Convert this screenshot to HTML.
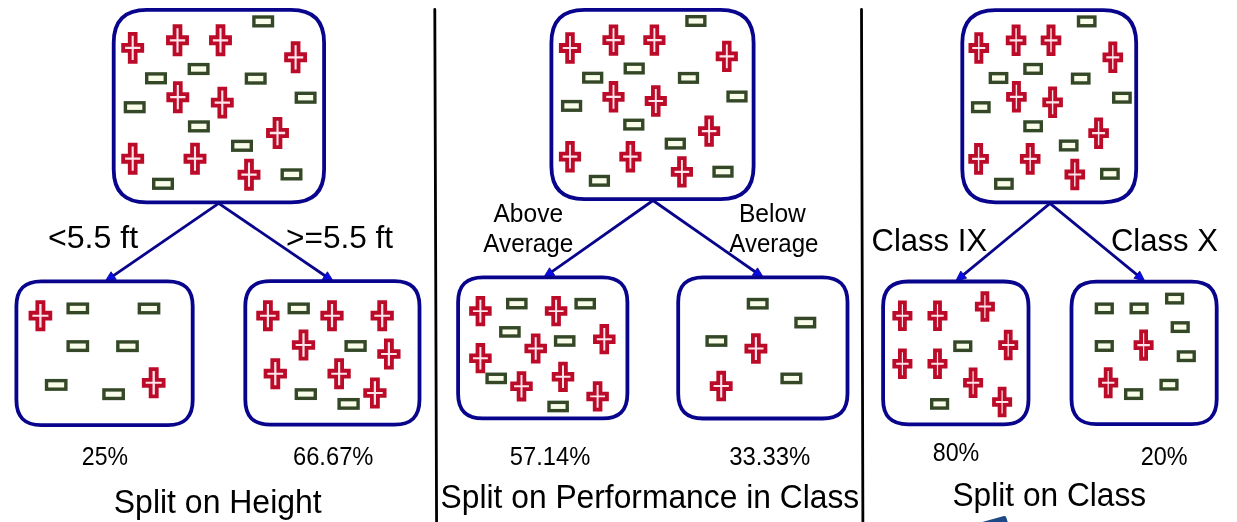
<!DOCTYPE html>
<html><head><meta charset="utf-8"><style>
html,body{margin:0;padding:0;background:#fff;}
body{width:1237px;height:522px;overflow:hidden;}
svg{display:block;will-change:transform;}
text{font-family:"Liberation Sans",sans-serif;fill:#000;}
.c{fill:#ffe4ec;stroke:#bb0b29;stroke-width:3.8;stroke-linejoin:miter;}
.r{fill:#f8fce9;stroke:#344827;stroke-width:3.4;}
.b{fill:none;stroke:#08048c;stroke-width:3.8;}
.l{stroke:#08048c;stroke-width:2.8;}
.ah{fill:#0a0ae6;stroke:#08048c;stroke-width:0.8;stroke-linejoin:miter;}
.d{stroke:#000;stroke-width:2.8;stroke-linecap:round;}
</style></head><body>
<svg width="1237" height="522" viewBox="0 0 1237 522">
<line x1="434.8" y1="9.5" x2="436.6" y2="530" class="d"/>
<line x1="861.5" y1="9.5" x2="862.9" y2="530" class="d"/>
<line x1="218.7" y1="203.4" x2="112.01" y2="276.69" class="l"/>
<path d="M105 281.5 L111.05 271.76 L116.26 279.35 Z" class="ah"/>
<line x1="218.7" y1="203.4" x2="326.47" y2="276.72" class="l"/>
<path d="M333.5 281.5 L322.23 279.4 L327.41 271.79 Z" class="ah"/>
<line x1="653" y1="200.5" x2="550.55" y2="272.7" class="l"/>
<path d="M543.6 277.6 L549.53 267.79 L554.83 275.31 Z" class="ah"/>
<line x1="653" y1="200.5" x2="756.53" y2="272.74" class="l"/>
<path d="M763.5 277.6 L752.26 275.36 L757.52 267.82 Z" class="ah"/>
<line x1="1050" y1="203.4" x2="962.16" y2="275.89" class="l"/>
<path d="M955.6 281.3 L960.77 271.07 L966.63 278.16 Z" class="ah"/>
<line x1="1050" y1="203.4" x2="1138.33" y2="275.91" class="l"/>
<path d="M1144.9 281.3 L1133.87 278.19 L1139.7 271.08 Z" class="ah"/>
<path d="M146.7 9.9 H291.1 C313.21 9.9 324.1 20.79 324.1 42.9 V169.4 C324.1 191.51 313.21 202.4 291.1 202.4 H146.7 C124.59 202.4 113.7 191.51 113.7 169.4 V42.9 C113.7 20.79 124.59 9.9 146.7 9.9 Z" class="b"/>
<path d="M584.4 9.9 H720.6 C742.71 9.9 753.6 20.79 753.6 42.9 V166.2 C753.6 188.31 742.71 199.2 720.6 199.2 H584.4 C562.29 199.2 551.4 188.31 551.4 166.2 V42.9 C551.4 20.79 562.29 9.9 584.4 9.9 Z" class="b"/>
<path d="M995.3 10.1 H1103.2 C1125.31 10.1 1136.2 20.99 1136.2 43.1 V169.3 C1136.2 191.41 1125.31 202.3 1103.2 202.3 H995.3 C973.19 202.3 962.3 191.41 962.3 169.3 V43.1 C962.3 20.99 973.19 10.1 995.3 10.1 Z" class="b"/>
<path d="M41.4 281.3 H167.7 C184.7 281.3 192.7 289.3 192.7 306.3 V400.1 C192.7 417.1 184.7 425.1 167.7 425.1 H41.4 C24.4 425.1 16.4 417.1 16.4 400.1 V306.3 C16.4 289.3 24.4 281.3 41.4 281.3 Z" class="b"/>
<path d="M270.3 281.2 H394.5 C411.5 281.2 419.5 289.2 419.5 306.2 V399.6 C419.5 416.6 411.5 424.6 394.5 424.6 H270.3 C253.3 424.6 245.3 416.6 245.3 399.6 V306.2 C245.3 289.2 253.3 281.2 270.3 281.2 Z" class="b"/>
<path d="M483.1 277.3 H602.4 C619.4 277.3 627.4 285.3 627.4 302.3 V393.4 C627.4 410.4 619.4 418.4 602.4 418.4 H483.1 C466.1 418.4 458.1 410.4 458.1 393.4 V302.3 C458.1 285.3 466.1 277.3 483.1 277.3 Z" class="b"/>
<path d="M703.2 277.3 H822.5 C839.5 277.3 847.5 285.3 847.5 302.3 V393.5 C847.5 410.5 839.5 418.5 822.5 418.5 H703.2 C686.2 418.5 678.2 410.5 678.2 393.5 V302.3 C678.2 285.3 686.2 277.3 703.2 277.3 Z" class="b"/>
<path d="M908.1 281.5 H1003.5 C1020.5 281.5 1028.5 289.5 1028.5 306.5 V399.3 C1028.5 416.3 1020.5 424.3 1003.5 424.3 H908.1 C891.1 424.3 883.1 416.3 883.1 399.3 V306.5 C883.1 289.5 891.1 281.5 908.1 281.5 Z" class="b"/>
<path d="M1096.5 281.7 H1191.7 C1208.7 281.7 1216.7 289.7 1216.7 306.7 V399.1 C1216.7 416.1 1208.7 424.1 1191.7 424.1 H1096.5 C1079.5 424.1 1071.5 416.1 1071.5 399.1 V306.7 C1071.5 289.7 1079.5 281.7 1096.5 281.7 Z" class="b"/>
<path d="M129.75 33.85 L135.65 33.85 L135.65 44.85 L142.25 44.85 L142.25 50.95 L135.65 50.95 L135.65 61.95 L129.75 61.95 L129.75 50.95 L123.15 50.95 L123.15 44.85 L129.75 44.85Z" class="c"/>
<path d="M174.55 26.25 L180.45 26.25 L180.45 37.25 L187.05 37.25 L187.05 43.35 L180.45 43.35 L180.45 54.35 L174.55 54.35 L174.55 43.35 L167.95 43.35 L167.95 37.25 L174.55 37.25Z" class="c"/>
<path d="M217.55 26.25 L223.45 26.25 L223.45 37.25 L230.05 37.25 L230.05 43.35 L223.45 43.35 L223.45 54.35 L217.55 54.35 L217.55 43.35 L210.95 43.35 L210.95 37.25 L217.55 37.25Z" class="c"/>
<path d="M292.65 43.25 L298.55 43.25 L298.55 54.25 L305.15 54.25 L305.15 60.35 L298.55 60.35 L298.55 71.35 L292.65 71.35 L292.65 60.35 L286.05 60.35 L286.05 54.25 L292.65 54.25Z" class="c"/>
<path d="M174.85 83.15 L180.75 83.15 L180.75 94.15 L187.35 94.15 L187.35 100.25 L180.75 100.25 L180.75 111.25 L174.85 111.25 L174.85 100.25 L168.25 100.25 L168.25 94.15 L174.85 94.15Z" class="c"/>
<path d="M219.35 88.55 L225.25 88.55 L225.25 99.55 L231.85 99.55 L231.85 105.65 L225.25 105.65 L225.25 116.65 L219.35 116.65 L219.35 105.65 L212.75 105.65 L212.75 99.55 L219.35 99.55Z" class="c"/>
<path d="M274.55 118.95 L280.45 118.95 L280.45 129.95 L287.05 129.95 L287.05 136.05 L280.45 136.05 L280.45 147.05 L274.55 147.05 L274.55 136.05 L267.95 136.05 L267.95 129.95 L274.55 129.95Z" class="c"/>
<path d="M129.75 144.65 L135.65 144.65 L135.65 155.65 L142.25 155.65 L142.25 161.75 L135.65 161.75 L135.65 172.75 L129.75 172.75 L129.75 161.75 L123.15 161.75 L123.15 155.65 L129.75 155.65Z" class="c"/>
<path d="M192.05 144.65 L197.95 144.65 L197.95 155.65 L204.55 155.65 L204.55 161.75 L197.95 161.75 L197.95 172.75 L192.05 172.75 L192.05 161.75 L185.45 161.75 L185.45 155.65 L192.05 155.65Z" class="c"/>
<path d="M246.05 160.65 L251.95 160.65 L251.95 171.65 L258.55 171.65 L258.55 177.75 L251.95 177.75 L251.95 188.75 L246.05 188.75 L246.05 177.75 L239.45 177.75 L239.45 171.65 L246.05 171.65Z" class="c"/>
<rect x="253.9" y="17" width="18.6" height="8.8" class="r"/>
<rect x="146.7" y="73.9" width="18.6" height="8.8" class="r"/>
<rect x="189.3" y="64.6" width="18.6" height="8.8" class="r"/>
<rect x="246.4" y="74.2" width="18.6" height="8.8" class="r"/>
<rect x="296.3" y="93.3" width="18.6" height="8.8" class="r"/>
<rect x="125.4" y="102.8" width="18.6" height="8.8" class="r"/>
<rect x="189.6" y="122" width="18.6" height="8.8" class="r"/>
<rect x="232.7" y="141.4" width="18.6" height="8.8" class="r"/>
<rect x="282.2" y="170" width="18.6" height="8.8" class="r"/>
<rect x="153.7" y="179.4" width="18.6" height="8.8" class="r"/>
<path d="M567.16 34.2 L572.84 34.2 L572.84 45 L579.19 45 L579.19 51 L572.84 51 L572.84 61.8 L567.16 61.8 L567.16 51 L560.81 51 L560.81 45 L567.16 45Z" class="c"/>
<path d="M610.66 26.3 L616.34 26.3 L616.34 37.1 L622.69 37.1 L622.69 43.1 L616.34 43.1 L616.34 53.9 L610.66 53.9 L610.66 43.1 L604.31 43.1 L604.31 37.1 L610.66 37.1Z" class="c"/>
<path d="M651.56 26.3 L657.24 26.3 L657.24 37.1 L663.59 37.1 L663.59 43.1 L657.24 43.1 L657.24 53.9 L651.56 53.9 L651.56 43.1 L645.21 43.1 L645.21 37.1 L651.56 37.1Z" class="c"/>
<path d="M723.96 42.6 L729.64 42.6 L729.64 53.4 L735.99 53.4 L735.99 59.4 L729.64 59.4 L729.64 70.2 L723.96 70.2 L723.96 59.4 L717.61 59.4 L717.61 53.4 L723.96 53.4Z" class="c"/>
<path d="M610.66 83 L616.34 83 L616.34 93.8 L622.69 93.8 L622.69 99.8 L616.34 99.8 L616.34 110.6 L610.66 110.6 L610.66 99.8 L604.31 99.8 L604.31 93.8 L610.66 93.8Z" class="c"/>
<path d="M652.96 87.2 L658.64 87.2 L658.64 98 L664.99 98 L664.99 104 L658.64 104 L658.64 114.8 L652.96 114.8 L652.96 104 L646.61 104 L646.61 98 L652.96 98Z" class="c"/>
<path d="M706.26 117.3 L711.94 117.3 L711.94 128.1 L718.29 128.1 L718.29 134.1 L711.94 134.1 L711.94 144.9 L706.26 144.9 L706.26 134.1 L699.91 134.1 L699.91 128.1 L706.26 128.1Z" class="c"/>
<path d="M567.16 142.9 L572.84 142.9 L572.84 153.7 L579.19 153.7 L579.19 159.7 L572.84 159.7 L572.84 170.5 L567.16 170.5 L567.16 159.7 L560.81 159.7 L560.81 153.7 L567.16 153.7Z" class="c"/>
<path d="M627.56 142.9 L633.24 142.9 L633.24 153.7 L639.59 153.7 L639.59 159.7 L633.24 159.7 L633.24 170.5 L627.56 170.5 L627.56 159.7 L621.21 159.7 L621.21 153.7 L627.56 153.7Z" class="c"/>
<path d="M679.06 158.1 L684.74 158.1 L684.74 168.9 L691.09 168.9 L691.09 174.9 L684.74 174.9 L684.74 185.7 L679.06 185.7 L679.06 174.9 L672.71 174.9 L672.71 168.9 L679.06 168.9Z" class="c"/>
<rect x="686.95" y="16.68" width="17.89" height="8.64" class="r"/>
<rect x="583.75" y="73.38" width="17.89" height="8.64" class="r"/>
<rect x="625.25" y="64.18" width="17.89" height="8.64" class="r"/>
<rect x="679.55" y="73.58" width="17.89" height="8.64" class="r"/>
<rect x="728.05" y="92.18" width="17.89" height="8.64" class="r"/>
<rect x="562.65" y="101.58" width="17.89" height="8.64" class="r"/>
<rect x="624.85" y="120.28" width="17.89" height="8.64" class="r"/>
<rect x="666.35" y="139.28" width="17.89" height="8.64" class="r"/>
<rect x="714.05" y="167.38" width="17.89" height="8.64" class="r"/>
<rect x="590.45" y="176.48" width="17.89" height="8.64" class="r"/>
<path d="M976.2 34.09 L981.4 34.09 L981.4 44.98 L987.2 44.98 L987.2 51.02 L981.4 51.02 L981.4 61.91 L976.2 61.91 L976.2 51.02 L970.4 51.02 L970.4 44.98 L976.2 44.98Z" class="c"/>
<path d="M1013.5 26.39 L1018.7 26.39 L1018.7 37.28 L1024.5 37.28 L1024.5 43.32 L1018.7 43.32 L1018.7 54.21 L1013.5 54.21 L1013.5 43.32 L1007.7 43.32 L1007.7 37.28 L1013.5 37.28Z" class="c"/>
<path d="M1048.4 26.39 L1053.6 26.39 L1053.6 37.28 L1059.4 37.28 L1059.4 43.32 L1053.6 43.32 L1053.6 54.21 L1048.4 54.21 L1048.4 43.32 L1042.6 43.32 L1042.6 37.28 L1048.4 37.28Z" class="c"/>
<path d="M1110.2 43.39 L1115.4 43.39 L1115.4 54.28 L1121.2 54.28 L1121.2 60.32 L1115.4 60.32 L1115.4 71.21 L1110.2 71.21 L1110.2 60.32 L1104.4 60.32 L1104.4 54.28 L1110.2 54.28Z" class="c"/>
<path d="M1013.8 82.89 L1019 82.89 L1019 93.78 L1024.8 93.78 L1024.8 99.82 L1019 99.82 L1019 110.71 L1013.8 110.71 L1013.8 99.82 L1008 99.82 L1008 93.78 L1013.8 93.78Z" class="c"/>
<path d="M1050 88.39 L1055.2 88.39 L1055.2 99.28 L1061 99.28 L1061 105.32 L1055.2 105.32 L1055.2 116.21 L1050 116.21 L1050 105.32 L1044.2 105.32 L1044.2 99.28 L1050 99.28Z" class="c"/>
<path d="M1096 119.29 L1101.2 119.29 L1101.2 130.18 L1107 130.18 L1107 136.22 L1101.2 136.22 L1101.2 147.11 L1096 147.11 L1096 136.22 L1090.2 136.22 L1090.2 130.18 L1096 130.18Z" class="c"/>
<path d="M976 144.99 L981.2 144.99 L981.2 155.88 L987 155.88 L987 161.92 L981.2 161.92 L981.2 172.81 L976 172.81 L976 161.92 L970.2 161.92 L970.2 155.88 L976 155.88Z" class="c"/>
<path d="M1027.6 144.99 L1032.8 144.99 L1032.8 155.88 L1038.6 155.88 L1038.6 161.92 L1032.8 161.92 L1032.8 172.81 L1027.6 172.81 L1027.6 161.92 L1021.8 161.92 L1021.8 155.88 L1027.6 155.88Z" class="c"/>
<path d="M1072.2 160.59 L1077.4 160.59 L1077.4 171.48 L1083.2 171.48 L1083.2 177.52 L1077.4 177.52 L1077.4 188.41 L1072.2 188.41 L1072.2 177.52 L1066.4 177.52 L1066.4 171.48 L1072.2 171.48Z" class="c"/>
<rect x="1078.52" y="17.04" width="16.37" height="8.71" class="r"/>
<rect x="990.32" y="73.64" width="16.37" height="8.71" class="r"/>
<rect x="1024.92" y="64.54" width="16.37" height="8.71" class="r"/>
<rect x="1072.52" y="74.24" width="16.37" height="8.71" class="r"/>
<rect x="1113.72" y="93.34" width="16.37" height="8.71" class="r"/>
<rect x="972.62" y="102.84" width="16.37" height="8.71" class="r"/>
<rect x="1024.92" y="121.94" width="16.37" height="8.71" class="r"/>
<rect x="1060.52" y="141.14" width="16.37" height="8.71" class="r"/>
<rect x="1101.72" y="169.44" width="16.37" height="8.71" class="r"/>
<rect x="995.72" y="179.44" width="16.37" height="8.71" class="r"/>
<path d="M37.33 302.07 L43.47 302.07 L43.47 312.74 L50.33 312.74 L50.33 318.66 L43.47 318.66 L43.47 329.33 L37.33 329.33 L37.33 318.66 L30.47 318.66 L30.47 312.74 L37.33 312.74Z" class="c"/>
<path d="M150.63 369.17 L156.77 369.17 L156.77 379.84 L163.63 379.84 L163.63 385.76 L156.77 385.76 L156.77 396.43 L150.63 396.43 L150.63 385.76 L143.77 385.76 L143.77 379.84 L150.63 379.84Z" class="c"/>
<rect x="68.13" y="304.13" width="19.34" height="8.54" class="r"/>
<rect x="139.33" y="304.23" width="19.34" height="8.54" class="r"/>
<rect x="68.13" y="341.83" width="19.34" height="8.54" class="r"/>
<rect x="117.83" y="341.93" width="19.34" height="8.54" class="r"/>
<rect x="46.53" y="380.63" width="19.34" height="8.54" class="r"/>
<rect x="103.93" y="389.93" width="19.34" height="8.54" class="r"/>
<path d="M264.89 302.14 L270.91 302.14 L270.91 312.76 L277.64 312.76 L277.64 318.64 L270.91 318.64 L270.91 329.26 L264.89 329.26 L264.89 318.64 L258.16 318.64 L258.16 312.76 L264.89 312.76Z" class="c"/>
<path d="M328.99 302.14 L335.01 302.14 L335.01 312.76 L341.74 312.76 L341.74 318.64 L335.01 318.64 L335.01 329.26 L328.99 329.26 L328.99 318.64 L322.26 318.64 L322.26 312.76 L328.99 312.76Z" class="c"/>
<path d="M379.19 302.14 L385.21 302.14 L385.21 312.76 L391.94 312.76 L391.94 318.64 L385.21 318.64 L385.21 329.26 L379.19 329.26 L379.19 318.64 L372.46 318.64 L372.46 312.76 L379.19 312.76Z" class="c"/>
<path d="M300.49 331.44 L306.51 331.44 L306.51 342.06 L313.24 342.06 L313.24 347.94 L306.51 347.94 L306.51 358.56 L300.49 358.56 L300.49 347.94 L293.76 347.94 L293.76 342.06 L300.49 342.06Z" class="c"/>
<path d="M385.89 340.44 L391.91 340.44 L391.91 351.06 L398.64 351.06 L398.64 356.94 L391.91 356.94 L391.91 367.56 L385.89 367.56 L385.89 356.94 L379.16 356.94 L379.16 351.06 L385.89 351.06Z" class="c"/>
<path d="M272.29 360.14 L278.31 360.14 L278.31 370.76 L285.04 370.76 L285.04 376.64 L278.31 376.64 L278.31 387.26 L272.29 387.26 L272.29 376.64 L265.56 376.64 L265.56 370.76 L272.29 370.76Z" class="c"/>
<path d="M336.09 360.14 L342.11 360.14 L342.11 370.76 L348.84 370.76 L348.84 376.64 L342.11 376.64 L342.11 387.26 L336.09 387.26 L336.09 376.64 L329.36 376.64 L329.36 370.76 L336.09 370.76Z" class="c"/>
<path d="M371.89 379.44 L377.91 379.44 L377.91 390.06 L384.64 390.06 L384.64 395.94 L377.91 395.94 L377.91 406.56 L371.89 406.56 L371.89 395.94 L365.16 395.94 L365.16 390.06 L371.89 390.06Z" class="c"/>
<rect x="289.21" y="304.15" width="18.97" height="8.49" class="r"/>
<rect x="346.11" y="341.75" width="18.97" height="8.49" class="r"/>
<rect x="296.31" y="389.85" width="18.97" height="8.49" class="r"/>
<rect x="339.11" y="399.65" width="18.97" height="8.49" class="r"/>
<path d="M477.51 297.89 L483.29 297.89 L483.29 308.23 L489.76 308.23 L489.76 313.97 L483.29 313.97 L483.29 324.31 L477.51 324.31 L477.51 313.97 L471.04 313.97 L471.04 308.23 L477.51 308.23Z" class="c"/>
<path d="M553.21 297.89 L558.99 297.89 L558.99 308.23 L565.46 308.23 L565.46 313.97 L558.99 313.97 L558.99 324.31 L553.21 324.31 L553.21 313.97 L546.74 313.97 L546.74 308.23 L553.21 308.23Z" class="c"/>
<path d="M601.41 325.99 L607.19 325.99 L607.19 336.33 L613.66 336.33 L613.66 342.07 L607.19 342.07 L607.19 352.41 L601.41 352.41 L601.41 342.07 L594.94 342.07 L594.94 336.33 L601.41 336.33Z" class="c"/>
<path d="M532.81 335.29 L538.59 335.29 L538.59 345.63 L545.06 345.63 L545.06 351.37 L538.59 351.37 L538.59 361.71 L532.81 361.71 L532.81 351.37 L526.34 351.37 L526.34 345.63 L532.81 345.63Z" class="c"/>
<path d="M477.51 344.99 L483.29 344.99 L483.29 355.33 L489.76 355.33 L489.76 361.07 L483.29 361.07 L483.29 371.41 L477.51 371.41 L477.51 361.07 L471.04 361.07 L471.04 355.33 L477.51 355.33Z" class="c"/>
<path d="M560.11 363.59 L565.89 363.59 L565.89 373.93 L572.36 373.93 L572.36 379.67 L565.89 379.67 L565.89 390.01 L560.11 390.01 L560.11 379.67 L553.64 379.67 L553.64 373.93 L560.11 373.93Z" class="c"/>
<path d="M518.61 373.09 L524.39 373.09 L524.39 383.43 L530.86 383.43 L530.86 389.17 L524.39 389.17 L524.39 399.51 L518.61 399.51 L518.61 389.17 L512.14 389.17 L512.14 383.43 L518.61 383.43Z" class="c"/>
<path d="M594.71 383.19 L600.49 383.19 L600.49 393.53 L606.96 393.53 L606.96 399.27 L600.49 399.27 L600.49 409.61 L594.71 409.61 L594.71 399.27 L588.24 399.27 L588.24 393.53 L594.71 393.53Z" class="c"/>
<rect x="507.69" y="299.46" width="18.23" height="8.27" class="r"/>
<rect x="576.09" y="299.56" width="18.23" height="8.27" class="r"/>
<rect x="500.79" y="327.76" width="18.23" height="8.27" class="r"/>
<rect x="555.59" y="336.86" width="18.23" height="8.27" class="r"/>
<rect x="487.09" y="374.26" width="18.23" height="8.27" class="r"/>
<rect x="548.99" y="402.36" width="18.23" height="8.27" class="r"/>
<path d="M752.95 335.25 L758.85 335.25 L758.85 345.7 L765.45 345.7 L765.45 351.5 L758.85 351.5 L758.85 361.95 L752.95 361.95 L752.95 351.5 L746.35 351.5 L746.35 345.7 L752.95 345.7Z" class="c"/>
<path d="M718.25 372.75 L724.15 372.75 L724.15 383.2 L730.75 383.2 L730.75 389 L724.15 389 L724.15 399.45 L718.25 399.45 L718.25 389 L711.65 389 L711.65 383.2 L718.25 383.2Z" class="c"/>
<rect x="748.4" y="299.52" width="18.6" height="8.36" class="r"/>
<rect x="796" y="318.42" width="18.6" height="8.36" class="r"/>
<rect x="707.1" y="336.82" width="18.6" height="8.36" class="r"/>
<rect x="782.1" y="374.22" width="18.6" height="8.36" class="r"/>
<path d="M899.89 302.35 L904.91 302.35 L904.91 312.8 L910.52 312.8 L910.52 318.6 L904.91 318.6 L904.91 329.05 L899.89 329.05 L899.89 318.6 L894.28 318.6 L894.28 312.8 L899.89 312.8Z" class="c"/>
<path d="M934.99 302.35 L940.01 302.35 L940.01 312.8 L945.62 312.8 L945.62 318.6 L940.01 318.6 L940.01 329.05 L934.99 329.05 L934.99 318.6 L929.38 318.6 L929.38 312.8 L934.99 312.8Z" class="c"/>
<path d="M982.39 293.25 L987.41 293.25 L987.41 303.7 L993.02 303.7 L993.02 309.5 L987.41 309.5 L987.41 319.95 L982.39 319.95 L982.39 309.5 L976.78 309.5 L976.78 303.7 L982.39 303.7Z" class="c"/>
<path d="M1005.69 331.75 L1010.71 331.75 L1010.71 342.2 L1016.32 342.2 L1016.32 348 L1010.71 348 L1010.71 358.45 L1005.69 358.45 L1005.69 348 L1000.08 348 L1000.08 342.2 L1005.69 342.2Z" class="c"/>
<path d="M899.89 350.35 L904.91 350.35 L904.91 360.8 L910.52 360.8 L910.52 366.6 L904.91 366.6 L904.91 377.05 L899.89 377.05 L899.89 366.6 L894.28 366.6 L894.28 360.8 L899.89 360.8Z" class="c"/>
<path d="M934.99 350.35 L940.01 350.35 L940.01 360.8 L945.62 360.8 L945.62 366.6 L940.01 366.6 L940.01 377.05 L934.99 377.05 L934.99 366.6 L929.38 366.6 L929.38 360.8 L934.99 360.8Z" class="c"/>
<path d="M970.59 369.35 L975.61 369.35 L975.61 379.8 L981.22 379.8 L981.22 385.6 L975.61 385.6 L975.61 396.05 L970.59 396.05 L970.59 385.6 L964.98 385.6 L964.98 379.8 L970.59 379.8Z" class="c"/>
<path d="M999.59 388.65 L1004.61 388.65 L1004.61 399.1 L1010.22 399.1 L1010.22 404.9 L1004.61 404.9 L1004.61 415.35 L999.59 415.35 L999.59 404.9 L993.98 404.9 L993.98 399.1 L999.59 399.1Z" class="c"/>
<rect x="954.89" y="342.02" width="15.81" height="8.36" class="r"/>
<rect x="931.7" y="399.72" width="15.81" height="8.36" class="r"/>
<path d="M1141.09 331.47 L1146.11 331.47 L1146.11 342.14 L1151.72 342.14 L1151.72 348.06 L1146.11 348.06 L1146.11 358.73 L1141.09 358.73 L1141.09 348.06 L1135.48 348.06 L1135.48 342.14 L1141.09 342.14Z" class="c"/>
<path d="M1105.69 369.07 L1110.71 369.07 L1110.71 379.74 L1116.32 379.74 L1116.32 385.66 L1110.71 385.66 L1110.71 396.33 L1105.69 396.33 L1105.69 385.66 L1100.08 385.66 L1100.08 379.74 L1105.69 379.74Z" class="c"/>
<rect x="1096.39" y="304.13" width="15.81" height="8.54" class="r"/>
<rect x="1131.19" y="304.13" width="15.81" height="8.54" class="r"/>
<rect x="1166.69" y="294.33" width="15.81" height="8.54" class="r"/>
<rect x="1172.3" y="322.83" width="15.81" height="8.54" class="r"/>
<rect x="1096.39" y="341.73" width="15.81" height="8.54" class="r"/>
<rect x="1178.39" y="351.93" width="15.81" height="8.54" class="r"/>
<rect x="1161.1" y="380.43" width="15.81" height="8.54" class="r"/>
<rect x="1125.69" y="389.83" width="15.81" height="8.54" class="r"/>
<text x="47.9" y="248.1" font-size="32" textLength="90.2" lengthAdjust="spacingAndGlyphs">&lt;5.5 ft</text>
<text x="286" y="248.1" font-size="32" textLength="107.1" lengthAdjust="spacingAndGlyphs">&gt;=5.5 ft</text>
<text x="493.5" y="221.9" font-size="25.8" textLength="69.6" lengthAdjust="spacingAndGlyphs">Above</text>
<text x="483.3" y="251.9" font-size="25.8" textLength="90.1" lengthAdjust="spacingAndGlyphs">Average</text>
<text x="738.9" y="221.9" font-size="25.8" textLength="67" lengthAdjust="spacingAndGlyphs">Below</text>
<text x="729.3" y="251.8" font-size="25.8" textLength="89.1" lengthAdjust="spacingAndGlyphs">Average</text>
<text x="871.5" y="250.8" font-size="32" textLength="115.6" lengthAdjust="spacingAndGlyphs">Class IX</text>
<text x="1110.9" y="250.8" font-size="32" textLength="107" lengthAdjust="spacingAndGlyphs">Class X</text>
<text x="81.8" y="465" font-size="25.7" textLength="46.2" lengthAdjust="spacingAndGlyphs">25%</text>
<text x="293" y="465.1" font-size="25.7" textLength="80.4" lengthAdjust="spacingAndGlyphs">66.67%</text>
<text x="509.8" y="464.9" font-size="25.7" textLength="80.5" lengthAdjust="spacingAndGlyphs">57.14%</text>
<text x="729.2" y="464.9" font-size="25.7" textLength="81.1" lengthAdjust="spacingAndGlyphs">33.33%</text>
<text x="932.7" y="461" font-size="25.7" textLength="46.6" lengthAdjust="spacingAndGlyphs">80%</text>
<text x="1140.7" y="465" font-size="25.7" textLength="46.9" lengthAdjust="spacingAndGlyphs">20%</text>
<text x="113.8" y="512.7" font-size="32.5" textLength="207.9" lengthAdjust="spacingAndGlyphs">Split on Height</text>
<text x="440.6" y="507.7" font-size="32.5" textLength="418.6" lengthAdjust="spacingAndGlyphs">Split on Performance in Class</text>
<text x="952.5" y="505.8" font-size="32.5" textLength="193.6" lengthAdjust="spacingAndGlyphs">Split on Class</text>
<path d="M978.6 523 L1003 516.3 Q1005.5 515.6 1006.3 517.5 L1008 523 Z" fill="#1d4a86"/>
</svg>
</body></html>
